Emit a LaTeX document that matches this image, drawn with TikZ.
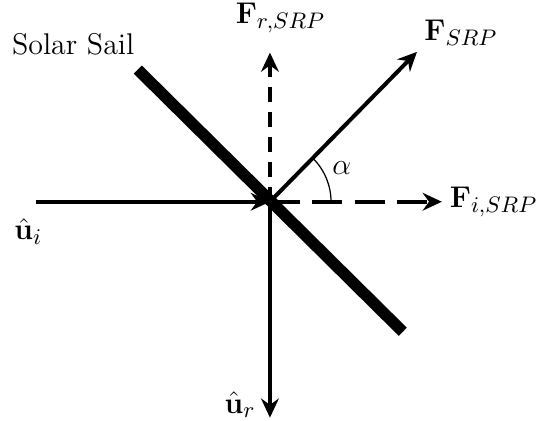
\documentclass[tikz,border=0pt]{standalone}
\usepackage{amsmath}
\usetikzlibrary{arrows.meta,positioning}

\begin{document}
\begin{tikzpicture}[
  vecarrow/.style={-{Stealth[length=2.7mm,width=2.5mm,inset=0.9mm]},line width=1.6pt},
  hcomp/.style={vecarrow,dash pattern=on 12pt off 5pt},
  vcomp/.style={vecarrow,dash pattern=on 6pt off 4pt},
  sail/.style={line width=4.6pt},
  anglearc/.style={line width=0.5pt},
  lbl/.style={font=\large,inner sep=1pt},
  mlbl/.style={font=\fontsize{13}{15}\selectfont,inner sep=1pt}
]
\useasboundingbox (-3.80,-3.08) rectangle (3.83,2.84);
\coordinate (O) at (0,0);
\coordinate (uistart) at (-3.29,0);
\coordinate (fitip) at (2.42,0);
\coordinate (frtip) at (0,2.10);
\coordinate (ftip) at (2.07,2.11);
\coordinate (urtip) at (0,-3.04);
\coordinate (sailtop) at (-1.86,1.86);
\coordinate (sailbot) at (1.87,-1.83);
% sail
\draw[sail] (sailtop) -- (sailbot);
% vectors
\draw[vecarrow] (uistart) -- (O);
\draw[hcomp] (O) -- (fitip);
\draw[vcomp] (O) -- (frtip);
\draw[vecarrow] (O) -- (ftip);
\draw[vecarrow] (O) -- (urtip);
\draw[anglearc] ([shift={(0:0.86)}]O) arc[start angle=0,end angle=45,radius=0.86];
% labels
\node[lbl] (saillbl) at (-2.77,2.22) {Solar Sail};
\node[mlbl] (uilbl) at (-3.40,-0.42) {$\hat{\mathbf{u}}_i$};
\node[mlbl] (urlbl) at (-0.42,-2.86) {$\hat{\mathbf{u}}_r$};
\node[mlbl,right=2pt of fitip] (filbl) {$\mathbf{F}_{i,SRP}$};
\node[mlbl] (frlbl) at (0.15,2.59) {$\mathbf{F}_{r,SRP}$};
\node[mlbl] (flbl) at (2.69,2.38) {$\mathbf{F}_{SRP}$};
\node[mlbl] (alphalbl) at (1.01,0.48) {$\alpha$};
\end{tikzpicture}
\end{document}
